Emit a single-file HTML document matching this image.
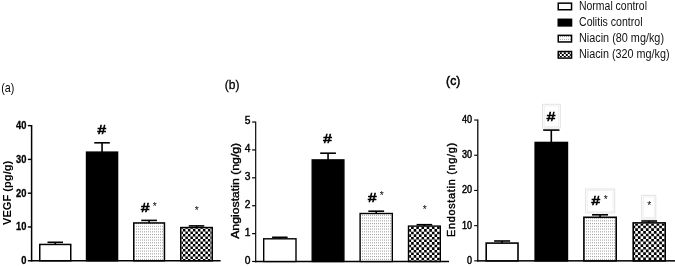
<!DOCTYPE html>
<html lang="en"><head><meta charset="utf-8"><title>Figure</title>
<style>html,body{margin:0;padding:0;background:#fff}svg{display:block}</style></head>
<body>
<svg width="675" height="266" viewBox="0 0 675 266">
<defs>
<pattern id="dots" x="0" y="0" width="2" height="11" patternUnits="userSpaceOnUse"><rect width="2" height="11" fill="#fff"/><rect x="0" y="0.30" width="1" height="1" fill="#a0a0a0"/><rect x="0" y="3.05" width="1" height="1" fill="#a0a0a0"/><rect x="0" y="5.80" width="1" height="1" fill="#a0a0a0"/><rect x="0" y="8.55" width="1" height="1" fill="#a0a0a0"/></pattern>
</defs>
<rect width="675" height="266" fill="#fff"/>

<rect x="30.85" y="125.00" width="1.5" height="136.50" fill="#000"/>
<rect x="30.85" y="260.00" width="189.75" height="1.5" fill="#000"/>
<rect x="27.85" y="260.05" width="3.2" height="1.4" fill="#000"/>
<text x="26.40" y="264.19" font-family="Liberation Sans, Arial, sans-serif" font-size="11" font-weight="bold" text-anchor="end" textLength="5.20" lengthAdjust="spacingAndGlyphs" stroke="#000" stroke-width="0.3">0</text>
<rect x="27.85" y="226.27" width="3.2" height="1.4" fill="#000"/>
<text x="26.40" y="230.41" font-family="Liberation Sans, Arial, sans-serif" font-size="11" font-weight="bold" text-anchor="end" textLength="10.40" lengthAdjust="spacingAndGlyphs" stroke="#000" stroke-width="0.3">10</text>
<rect x="27.85" y="192.49" width="3.2" height="1.4" fill="#000"/>
<text x="26.40" y="196.63" font-family="Liberation Sans, Arial, sans-serif" font-size="11" font-weight="bold" text-anchor="end" textLength="10.40" lengthAdjust="spacingAndGlyphs" stroke="#000" stroke-width="0.3">20</text>
<rect x="27.85" y="158.71" width="3.2" height="1.4" fill="#000"/>
<text x="26.40" y="162.85" font-family="Liberation Sans, Arial, sans-serif" font-size="11" font-weight="bold" text-anchor="end" textLength="10.40" lengthAdjust="spacingAndGlyphs" stroke="#000" stroke-width="0.3">30</text>
<rect x="27.85" y="124.93" width="3.2" height="1.4" fill="#000"/>
<text x="26.40" y="129.07" font-family="Liberation Sans, Arial, sans-serif" font-size="11" font-weight="bold" text-anchor="end" textLength="10.40" lengthAdjust="spacingAndGlyphs" stroke="#000" stroke-width="0.3">40</text>
<rect x="54.45" y="242.30" width="1.6" height="2.15" fill="#000"/>
<rect x="47.50" y="241.50" width="15.5" height="1.6" fill="#000"/>
<rect x="39.75" y="244.45" width="31.00" height="16.30" fill="#fff" stroke="#000" stroke-width="1.5"/>
<rect x="101.25" y="142.80" width="1.6" height="9.35" fill="#000"/>
<rect x="94.30" y="142.00" width="15.5" height="1.6" fill="#000"/>
<rect x="86.55" y="152.15" width="31.00" height="108.60" fill="#000" stroke="#000" stroke-width="1.5"/>
<rect x="148.30" y="220.40" width="1.6" height="2.55" fill="#000"/>
<rect x="141.25" y="219.60" width="15.7" height="1.6" fill="#000"/>
<rect x="133.75" y="222.95" width="30.70" height="37.80" fill="url(#dots)" stroke="#000" stroke-width="1.5"/>
<rect x="195.70" y="225.90" width="1.6" height="1.65" fill="#000"/>
<rect x="188.75" y="225.10" width="15.5" height="1.6" fill="#000"/>
<rect x="180.75" y="227.55" width="31.50" height="33.20" fill="#fff" stroke="#000" stroke-width="1.5"/>
<path fill="#000" d="M181.50 228.30H182.90V228.90H181.50zM185.40 228.30H187.90V228.90H185.40zM190.40 228.30H192.90V228.90H190.40zM195.40 228.30H197.90V228.90H195.40zM200.40 228.30H202.90V228.90H200.40zM205.40 228.30H207.90V228.90H205.40zM210.40 228.30H211.50V228.90H210.40zM182.90 228.90H185.40V231.40H182.90zM187.90 228.90H190.40V231.40H187.90zM192.90 228.90H195.40V231.40H192.90zM197.90 228.90H200.40V231.40H197.90zM202.90 228.90H205.40V231.40H202.90zM207.90 228.90H210.40V231.40H207.90zM181.50 231.40H182.90V233.90H181.50zM185.40 231.40H187.90V233.90H185.40zM190.40 231.40H192.90V233.90H190.40zM195.40 231.40H197.90V233.90H195.40zM200.40 231.40H202.90V233.90H200.40zM205.40 231.40H207.90V233.90H205.40zM210.40 231.40H211.50V233.90H210.40zM182.90 233.90H185.40V236.40H182.90zM187.90 233.90H190.40V236.40H187.90zM192.90 233.90H195.40V236.40H192.90zM197.90 233.90H200.40V236.40H197.90zM202.90 233.90H205.40V236.40H202.90zM207.90 233.90H210.40V236.40H207.90zM181.50 236.40H182.90V238.90H181.50zM185.40 236.40H187.90V238.90H185.40zM190.40 236.40H192.90V238.90H190.40zM195.40 236.40H197.90V238.90H195.40zM200.40 236.40H202.90V238.90H200.40zM205.40 236.40H207.90V238.90H205.40zM210.40 236.40H211.50V238.90H210.40zM182.90 238.90H185.40V241.40H182.90zM187.90 238.90H190.40V241.40H187.90zM192.90 238.90H195.40V241.40H192.90zM197.90 238.90H200.40V241.40H197.90zM202.90 238.90H205.40V241.40H202.90zM207.90 238.90H210.40V241.40H207.90zM181.50 241.40H182.90V243.90H181.50zM185.40 241.40H187.90V243.90H185.40zM190.40 241.40H192.90V243.90H190.40zM195.40 241.40H197.90V243.90H195.40zM200.40 241.40H202.90V243.90H200.40zM205.40 241.40H207.90V243.90H205.40zM210.40 241.40H211.50V243.90H210.40zM182.90 243.90H185.40V246.40H182.90zM187.90 243.90H190.40V246.40H187.90zM192.90 243.90H195.40V246.40H192.90zM197.90 243.90H200.40V246.40H197.90zM202.90 243.90H205.40V246.40H202.90zM207.90 243.90H210.40V246.40H207.90zM181.50 246.40H182.90V248.90H181.50zM185.40 246.40H187.90V248.90H185.40zM190.40 246.40H192.90V248.90H190.40zM195.40 246.40H197.90V248.90H195.40zM200.40 246.40H202.90V248.90H200.40zM205.40 246.40H207.90V248.90H205.40zM210.40 246.40H211.50V248.90H210.40zM182.90 248.90H185.40V251.40H182.90zM187.90 248.90H190.40V251.40H187.90zM192.90 248.90H195.40V251.40H192.90zM197.90 248.90H200.40V251.40H197.90zM202.90 248.90H205.40V251.40H202.90zM207.90 248.90H210.40V251.40H207.90zM181.50 251.40H182.90V253.90H181.50zM185.40 251.40H187.90V253.90H185.40zM190.40 251.40H192.90V253.90H190.40zM195.40 251.40H197.90V253.90H195.40zM200.40 251.40H202.90V253.90H200.40zM205.40 251.40H207.90V253.90H205.40zM210.40 251.40H211.50V253.90H210.40zM182.90 253.90H185.40V256.40H182.90zM187.90 253.90H190.40V256.40H187.90zM192.90 253.90H195.40V256.40H192.90zM197.90 253.90H200.40V256.40H197.90zM202.90 253.90H205.40V256.40H202.90zM207.90 253.90H210.40V256.40H207.90zM181.50 256.40H182.90V258.90H181.50zM185.40 256.40H187.90V258.90H185.40zM190.40 256.40H192.90V258.90H190.40zM195.40 256.40H197.90V258.90H195.40zM200.40 256.40H202.90V258.90H200.40zM205.40 256.40H207.90V258.90H205.40zM210.40 256.40H211.50V258.90H210.40zM182.90 258.90H185.40V260.75H182.90zM187.90 258.90H190.40V260.75H187.90zM192.90 258.90H195.40V260.75H192.90zM197.90 258.90H200.40V260.75H197.90zM202.90 258.90H205.40V260.75H202.90zM207.90 258.90H210.40V260.75H207.90z"/>
<rect x="255.12" y="121.50" width="1.15" height="140.75" fill="#000"/>
<rect x="255.12" y="260.75" width="193.88" height="1.5" fill="#000"/>
<rect x="252.12" y="260.90" width="3.2" height="1.2" fill="#000"/>
<text x="250.40" y="263.88" font-family="Liberation Sans, Arial, sans-serif" font-size="10.0" font-weight="normal" text-anchor="end" textLength="5.70" lengthAdjust="spacingAndGlyphs" stroke="#000" stroke-width="0.4">0</text>
<rect x="252.12" y="233.01" width="3.2" height="1.2" fill="#000"/>
<text x="250.40" y="235.99" font-family="Liberation Sans, Arial, sans-serif" font-size="10.0" font-weight="normal" text-anchor="end" textLength="5.70" lengthAdjust="spacingAndGlyphs" stroke="#000" stroke-width="0.4">1</text>
<rect x="252.12" y="205.12" width="3.2" height="1.2" fill="#000"/>
<text x="250.40" y="208.10" font-family="Liberation Sans, Arial, sans-serif" font-size="10.0" font-weight="normal" text-anchor="end" textLength="5.70" lengthAdjust="spacingAndGlyphs" stroke="#000" stroke-width="0.4">2</text>
<rect x="252.12" y="177.23" width="3.2" height="1.2" fill="#000"/>
<text x="250.40" y="180.21" font-family="Liberation Sans, Arial, sans-serif" font-size="10.0" font-weight="normal" text-anchor="end" textLength="5.70" lengthAdjust="spacingAndGlyphs" stroke="#000" stroke-width="0.4">3</text>
<rect x="252.12" y="149.34" width="3.2" height="1.2" fill="#000"/>
<text x="250.40" y="152.32" font-family="Liberation Sans, Arial, sans-serif" font-size="10.0" font-weight="normal" text-anchor="end" textLength="5.70" lengthAdjust="spacingAndGlyphs" stroke="#000" stroke-width="0.4">4</text>
<rect x="252.12" y="121.45" width="3.2" height="1.2" fill="#000"/>
<text x="250.40" y="124.43" font-family="Liberation Sans, Arial, sans-serif" font-size="10.0" font-weight="normal" text-anchor="end" textLength="5.70" lengthAdjust="spacingAndGlyphs" stroke="#000" stroke-width="0.4">5</text>
<rect x="279.05" y="237.30" width="1.6" height="1.50" fill="#000"/>
<rect x="272.10" y="236.50" width="15.5" height="1.6" fill="#000"/>
<rect x="263.70" y="238.80" width="32.30" height="22.70" fill="#fff" stroke="#000" stroke-width="1.4"/>
<rect x="327.25" y="153.20" width="1.6" height="6.70" fill="#000"/>
<rect x="320.20" y="152.40" width="15.7" height="1.6" fill="#000"/>
<rect x="312.20" y="159.90" width="31.70" height="101.60" fill="#000" stroke="#000" stroke-width="1.4"/>
<rect x="375.40" y="211.20" width="1.6" height="2.30" fill="#000"/>
<rect x="368.30" y="210.40" width="15.8" height="1.6" fill="#000"/>
<rect x="360.10" y="213.50" width="32.20" height="48.00" fill="url(#dots)" stroke="#000" stroke-width="1.4"/>
<rect x="423.60" y="224.70" width="1.6" height="1.40" fill="#000"/>
<rect x="416.60" y="223.90" width="15.6" height="1.6" fill="#000"/>
<rect x="408.50" y="226.10" width="31.80" height="35.40" fill="#fff" stroke="#000" stroke-width="1.4"/>
<path fill="#000" d="M411.10 226.80H413.70V229.10H411.10zM416.30 226.80H418.90V229.10H416.30zM421.50 226.80H424.10V229.10H421.50zM426.70 226.80H429.30V229.10H426.70zM431.90 226.80H434.50V229.10H431.90zM437.10 226.80H439.60V229.10H437.10zM409.20 229.10H411.10V231.70H409.20zM413.70 229.10H416.30V231.70H413.70zM418.90 229.10H421.50V231.70H418.90zM424.10 229.10H426.70V231.70H424.10zM429.30 229.10H431.90V231.70H429.30zM434.50 229.10H437.10V231.70H434.50zM411.10 231.70H413.70V234.30H411.10zM416.30 231.70H418.90V234.30H416.30zM421.50 231.70H424.10V234.30H421.50zM426.70 231.70H429.30V234.30H426.70zM431.90 231.70H434.50V234.30H431.90zM437.10 231.70H439.60V234.30H437.10zM409.20 234.30H411.10V236.90H409.20zM413.70 234.30H416.30V236.90H413.70zM418.90 234.30H421.50V236.90H418.90zM424.10 234.30H426.70V236.90H424.10zM429.30 234.30H431.90V236.90H429.30zM434.50 234.30H437.10V236.90H434.50zM411.10 236.90H413.70V239.50H411.10zM416.30 236.90H418.90V239.50H416.30zM421.50 236.90H424.10V239.50H421.50zM426.70 236.90H429.30V239.50H426.70zM431.90 236.90H434.50V239.50H431.90zM437.10 236.90H439.60V239.50H437.10zM409.20 239.50H411.10V242.10H409.20zM413.70 239.50H416.30V242.10H413.70zM418.90 239.50H421.50V242.10H418.90zM424.10 239.50H426.70V242.10H424.10zM429.30 239.50H431.90V242.10H429.30zM434.50 239.50H437.10V242.10H434.50zM411.10 242.10H413.70V244.70H411.10zM416.30 242.10H418.90V244.70H416.30zM421.50 242.10H424.10V244.70H421.50zM426.70 242.10H429.30V244.70H426.70zM431.90 242.10H434.50V244.70H431.90zM437.10 242.10H439.60V244.70H437.10zM409.20 244.70H411.10V247.30H409.20zM413.70 244.70H416.30V247.30H413.70zM418.90 244.70H421.50V247.30H418.90zM424.10 244.70H426.70V247.30H424.10zM429.30 244.70H431.90V247.30H429.30zM434.50 244.70H437.10V247.30H434.50zM411.10 247.30H413.70V249.90H411.10zM416.30 247.30H418.90V249.90H416.30zM421.50 247.30H424.10V249.90H421.50zM426.70 247.30H429.30V249.90H426.70zM431.90 247.30H434.50V249.90H431.90zM437.10 247.30H439.60V249.90H437.10zM409.20 249.90H411.10V252.50H409.20zM413.70 249.90H416.30V252.50H413.70zM418.90 249.90H421.50V252.50H418.90zM424.10 249.90H426.70V252.50H424.10zM429.30 249.90H431.90V252.50H429.30zM434.50 249.90H437.10V252.50H434.50zM411.10 252.50H413.70V255.10H411.10zM416.30 252.50H418.90V255.10H416.30zM421.50 252.50H424.10V255.10H421.50zM426.70 252.50H429.30V255.10H426.70zM431.90 252.50H434.50V255.10H431.90zM437.10 252.50H439.60V255.10H437.10zM409.20 255.10H411.10V257.70H409.20zM413.70 255.10H416.30V257.70H413.70zM418.90 255.10H421.50V257.70H418.90zM424.10 255.10H426.70V257.70H424.10zM429.30 255.10H431.90V257.70H429.30zM434.50 255.10H437.10V257.70H434.50zM411.10 257.70H413.70V260.30H411.10zM416.30 257.70H418.90V260.30H416.30zM421.50 257.70H424.10V260.30H421.50zM426.70 257.70H429.30V260.30H426.70zM431.90 257.70H434.50V260.30H431.90zM437.10 257.70H439.60V260.30H437.10zM409.20 260.30H411.10V261.50H409.20zM413.70 260.30H416.30V261.50H413.70zM418.90 260.30H421.50V261.50H418.90zM424.10 260.30H426.70V261.50H424.10zM429.30 260.30H431.90V261.50H429.30zM434.50 260.30H437.10V261.50H434.50z"/>
<rect x="477.18" y="119.40" width="1.25" height="142.20" fill="#000"/>
<rect x="477.18" y="260.10" width="197.82" height="1.5" fill="#000"/>
<rect x="474.18" y="260.30" width="3.2" height="1.1" fill="#000"/>
<text x="472.00" y="263.77" font-family="Liberation Sans, Arial, sans-serif" font-size="10.1" font-weight="normal" text-anchor="end" textLength="5.05" lengthAdjust="spacingAndGlyphs" stroke="#000" stroke-width="0.45">0</text>
<rect x="474.18" y="225.10" width="3.2" height="1.1" fill="#000"/>
<text x="472.00" y="228.57" font-family="Liberation Sans, Arial, sans-serif" font-size="10.1" font-weight="normal" text-anchor="end" textLength="10.10" lengthAdjust="spacingAndGlyphs" stroke="#000" stroke-width="0.45">10</text>
<rect x="474.18" y="189.90" width="3.2" height="1.1" fill="#000"/>
<text x="472.00" y="193.37" font-family="Liberation Sans, Arial, sans-serif" font-size="10.1" font-weight="normal" text-anchor="end" textLength="10.10" lengthAdjust="spacingAndGlyphs" stroke="#000" stroke-width="0.45">20</text>
<rect x="474.18" y="154.70" width="3.2" height="1.1" fill="#000"/>
<text x="472.00" y="158.17" font-family="Liberation Sans, Arial, sans-serif" font-size="10.1" font-weight="normal" text-anchor="end" textLength="10.10" lengthAdjust="spacingAndGlyphs" stroke="#000" stroke-width="0.45">30</text>
<rect x="474.18" y="119.50" width="3.2" height="1.1" fill="#000"/>
<text x="472.00" y="122.97" font-family="Liberation Sans, Arial, sans-serif" font-size="10.1" font-weight="normal" text-anchor="end" textLength="10.10" lengthAdjust="spacingAndGlyphs" stroke="#000" stroke-width="0.45">40</text>
<rect x="501.30" y="241.00" width="1.6" height="2.10" fill="#000"/>
<rect x="494.10" y="240.20" width="16" height="1.6" fill="#000"/>
<rect x="486.20" y="243.10" width="31.80" height="17.75" fill="#fff" stroke="#000" stroke-width="1.6"/>
<rect x="550.50" y="130.10" width="1.6" height="12.40" fill="#000"/>
<rect x="543.15" y="129.30" width="16.3" height="1.6" fill="#000"/>
<rect x="535.20" y="142.50" width="32.20" height="118.35" fill="#000" stroke="#000" stroke-width="1.6"/>
<rect x="599.25" y="214.80" width="1.6" height="2.50" fill="#000"/>
<rect x="592.05" y="214.00" width="16" height="1.6" fill="#000"/>
<rect x="583.90" y="217.30" width="32.30" height="43.55" fill="url(#dots)" stroke="#000" stroke-width="1.6"/>
<rect x="648.40" y="221.00" width="1.6" height="1.90" fill="#000"/>
<rect x="641.30" y="220.20" width="15.8" height="1.6" fill="#000"/>
<rect x="633.20" y="222.90" width="32.00" height="37.95" fill="#fff" stroke="#000" stroke-width="1.6"/>
<path fill="#000" d="M635.23 223.70H637.89V225.63H635.23zM640.56 223.70H643.23V225.63H640.56zM645.89 223.70H648.55V225.63H645.89zM651.22 223.70H653.88V225.63H651.22zM656.55 223.70H659.22V225.63H656.55zM661.88 223.70H664.40V225.63H661.88zM634.00 225.63H635.23V228.30H634.00zM637.89 225.63H640.56V228.30H637.89zM643.23 225.63H645.89V228.30H643.23zM648.55 225.63H651.22V228.30H648.55zM653.88 225.63H656.55V228.30H653.88zM659.22 225.63H661.88V228.30H659.22zM635.23 228.30H637.89V230.97H635.23zM640.56 228.30H643.23V230.97H640.56zM645.89 228.30H648.55V230.97H645.89zM651.22 228.30H653.88V230.97H651.22zM656.55 228.30H659.22V230.97H656.55zM661.88 228.30H664.40V230.97H661.88zM634.00 230.97H635.23V233.63H634.00zM637.89 230.97H640.56V233.63H637.89zM643.23 230.97H645.89V233.63H643.23zM648.55 230.97H651.22V233.63H648.55zM653.88 230.97H656.55V233.63H653.88zM659.22 230.97H661.88V233.63H659.22zM635.23 233.63H637.89V236.29H635.23zM640.56 233.63H643.23V236.29H640.56zM645.89 233.63H648.55V236.29H645.89zM651.22 233.63H653.88V236.29H651.22zM656.55 233.63H659.22V236.29H656.55zM661.88 233.63H664.40V236.29H661.88zM634.00 236.29H635.23V238.96H634.00zM637.89 236.29H640.56V238.96H637.89zM643.23 236.29H645.89V238.96H643.23zM648.55 236.29H651.22V238.96H648.55zM653.88 236.29H656.55V238.96H653.88zM659.22 236.29H661.88V238.96H659.22zM635.23 238.96H637.89V241.62H635.23zM640.56 238.96H643.23V241.62H640.56zM645.89 238.96H648.55V241.62H645.89zM651.22 238.96H653.88V241.62H651.22zM656.55 238.96H659.22V241.62H656.55zM661.88 238.96H664.40V241.62H661.88zM634.00 241.62H635.23V244.29H634.00zM637.89 241.62H640.56V244.29H637.89zM643.23 241.62H645.89V244.29H643.23zM648.55 241.62H651.22V244.29H648.55zM653.88 241.62H656.55V244.29H653.88zM659.22 241.62H661.88V244.29H659.22zM635.23 244.29H637.89V246.95H635.23zM640.56 244.29H643.23V246.95H640.56zM645.89 244.29H648.55V246.95H645.89zM651.22 244.29H653.88V246.95H651.22zM656.55 244.29H659.22V246.95H656.55zM661.88 244.29H664.40V246.95H661.88zM634.00 246.95H635.23V249.62H634.00zM637.89 246.95H640.56V249.62H637.89zM643.23 246.95H645.89V249.62H643.23zM648.55 246.95H651.22V249.62H648.55zM653.88 246.95H656.55V249.62H653.88zM659.22 246.95H661.88V249.62H659.22zM635.23 249.62H637.89V252.28H635.23zM640.56 249.62H643.23V252.28H640.56zM645.89 249.62H648.55V252.28H645.89zM651.22 249.62H653.88V252.28H651.22zM656.55 249.62H659.22V252.28H656.55zM661.88 249.62H664.40V252.28H661.88zM634.00 252.28H635.23V254.95H634.00zM637.89 252.28H640.56V254.95H637.89zM643.23 252.28H645.89V254.95H643.23zM648.55 252.28H651.22V254.95H648.55zM653.88 252.28H656.55V254.95H653.88zM659.22 252.28H661.88V254.95H659.22zM635.23 254.95H637.89V257.62H635.23zM640.56 254.95H643.23V257.62H640.56zM645.89 254.95H648.55V257.62H645.89zM651.22 254.95H653.88V257.62H651.22zM656.55 254.95H659.22V257.62H656.55zM661.88 254.95H664.40V257.62H661.88zM634.00 257.62H635.23V260.28H634.00zM637.89 257.62H640.56V260.28H637.89zM643.23 257.62H645.89V260.28H643.23zM648.55 257.62H651.22V260.28H648.55zM653.88 257.62H656.55V260.28H653.88zM659.22 257.62H661.88V260.28H659.22zM635.23 260.28H637.89V260.85H635.23zM640.56 260.28H643.23V260.85H640.56zM645.89 260.28H648.55V260.85H645.89zM651.22 260.28H653.88V260.85H651.22zM656.55 260.28H659.22V260.85H656.55zM661.88 260.28H664.40V260.85H661.88z"/>
<text transform="translate(10.8,192.9) rotate(-90)" font-family="Liberation Sans, Arial, sans-serif" font-size="11.5" font-weight="bold" text-anchor="middle" letter-spacing="0" textLength="64.2" lengthAdjust="spacingAndGlyphs">VEGF (pg/g)</text>
<text transform="translate(238.9,190.8) rotate(-90)" font-family="Liberation Sans, Arial, sans-serif" font-size="10.0" font-weight="normal" text-anchor="middle" letter-spacing="0" textLength="96" lengthAdjust="spacingAndGlyphs" stroke="#000" stroke-width="0.35">Angiostatin (ng/g)</text>
<text transform="translate(454.6,189.6) rotate(-90)" font-family="Liberation Sans, Arial, sans-serif" font-size="10.4" font-weight="normal" text-anchor="middle" letter-spacing="0.7" textLength="94.9" lengthAdjust="spacingAndGlyphs" stroke="#000" stroke-width="0.4">Endostatin (ng/g)</text>
<text x="1.3" y="91.8" font-family="Liberation Sans, Arial, sans-serif" font-size="13" font-weight="normal" textLength="13.1" lengthAdjust="spacingAndGlyphs">(a)</text>
<text x="224.7" y="89" font-family="Liberation Sans, Arial, sans-serif" font-size="13" font-weight="normal" textLength="14.7" lengthAdjust="spacingAndGlyphs" stroke="#000" stroke-width="0.3">(b)</text>
<text x="446.1" y="85" font-family="Liberation Sans, Arial, sans-serif" font-size="13" font-weight="normal" textLength="14.2" lengthAdjust="spacingAndGlyphs" stroke="#000" stroke-width="0.5">(c)</text>
<rect x="542.6" y="104.3" width="17.699999999999932" height="23.700000000000003" fill="#fff" stroke="#e3e3e3" stroke-width="1"/>
<rect x="544.2" y="105.89999999999999" width="14.499999999999932" height="20.500000000000004" fill="#fff" stroke="#ededed" stroke-width="0.8"/>
<rect x="585.6" y="189" width="29.100000000000023" height="24" fill="#fff" stroke="#e3e3e3" stroke-width="1"/>
<rect x="587.2" y="190.6" width="25.900000000000023" height="20.8" fill="#fff" stroke="#ededed" stroke-width="0.8"/>
<rect x="641.7" y="195.3" width="14.099999999999909" height="23.69999999999999" fill="#fff" stroke="#e3e3e3" stroke-width="1"/>
<rect x="643.3000000000001" y="196.9" width="10.89999999999991" height="20.49999999999999" fill="#fff" stroke="#ededed" stroke-width="0.8"/>
<text x="97.6" y="133.5" font-family="Liberation Sans, Arial, sans-serif" font-size="13" textLength="8.5" lengthAdjust="spacingAndGlyphs" stroke="#000" stroke-width="0.6">#</text>
<text x="141.1" y="211.5" font-family="Liberation Sans, Arial, sans-serif" font-size="13" textLength="8.5" lengthAdjust="spacingAndGlyphs" stroke="#000" stroke-width="0.6">#</text>
<text x="152.73" y="209.78" font-family="Liberation Sans, Arial, sans-serif" font-size="10.2" fill="#000">*</text>
<text x="194.83" y="213.78" font-family="Liberation Sans, Arial, sans-serif" font-size="10.2" fill="#000">*</text>
<text x="323.3" y="142.9" font-family="Liberation Sans, Arial, sans-serif" font-size="13" textLength="8.5" lengthAdjust="spacingAndGlyphs" stroke="#000" stroke-width="0.6">#</text>
<text x="367.9" y="201.5" font-family="Liberation Sans, Arial, sans-serif" font-size="13" textLength="8.5" lengthAdjust="spacingAndGlyphs" stroke="#000" stroke-width="0.6">#</text>
<text x="379.73" y="199.18" font-family="Liberation Sans, Arial, sans-serif" font-size="10.2" fill="#000">*</text>
<text x="422.73" y="213.08" font-family="Liberation Sans, Arial, sans-serif" font-size="10.2" fill="#000">*</text>
<text x="546.8" y="120.7" font-family="Liberation Sans, Arial, sans-serif" font-size="13" textLength="8.5" lengthAdjust="spacingAndGlyphs" stroke="#000" stroke-width="0.6">#</text>
<text x="591.6" y="205.0" font-family="Liberation Sans, Arial, sans-serif" font-size="13" textLength="8.5" lengthAdjust="spacingAndGlyphs" stroke="#000" stroke-width="0.6">#</text>
<text x="603.63" y="202.98" font-family="Liberation Sans, Arial, sans-serif" font-size="10.2" fill="#000">*</text>
<text x="647.13" y="208.98" font-family="Liberation Sans, Arial, sans-serif" font-size="10.2" fill="#000">*</text>
<rect x="558.25" y="3.15" width="13.3" height="6.6" fill="#fff" stroke="#000" stroke-width="1.5"/>
<text x="579" y="10" font-family="Liberation Sans, Arial, sans-serif" font-size="12" textLength="68" lengthAdjust="spacingAndGlyphs" fill="#111">Normal control</text>
<rect x="558.25" y="19.30" width="13.3" height="6.6" fill="#000" stroke="#000" stroke-width="1.5"/>
<text x="579" y="26" font-family="Liberation Sans, Arial, sans-serif" font-size="12" textLength="63.5" lengthAdjust="spacingAndGlyphs" fill="#111">Colitis control</text>
<rect x="558.25" y="35.35" width="13.3" height="6.6" fill="url(#dots)" stroke="#000" stroke-width="1.5"/>
<text x="579" y="42" font-family="Liberation Sans, Arial, sans-serif" font-size="12" textLength="85" lengthAdjust="spacingAndGlyphs" fill="#111">Niacin (80 mg/kg)</text>
<rect x="558.25" y="51.50" width="13.3" height="6.6" fill="#fff" stroke="#000" stroke-width="1.5"/>
<path fill="#000" d="M559.80 52.25H561.80V53.90H559.80zM563.80 52.25H565.80V53.90H563.80zM567.80 52.25H569.80V53.90H567.80zM559.00 53.90H559.80V55.90H559.00zM561.80 53.90H563.80V55.90H561.80zM565.80 53.90H567.80V55.90H565.80zM569.80 53.90H570.80V55.90H569.80zM559.80 55.90H561.80V57.35H559.80zM563.80 55.90H565.80V57.35H563.80zM567.80 55.90H569.80V57.35H567.80z"/>
<text x="579" y="58" font-family="Liberation Sans, Arial, sans-serif" font-size="12" textLength="90.6" lengthAdjust="spacingAndGlyphs" fill="#111">Niacin (320 mg/kg)</text>
</svg>
</body></html>
